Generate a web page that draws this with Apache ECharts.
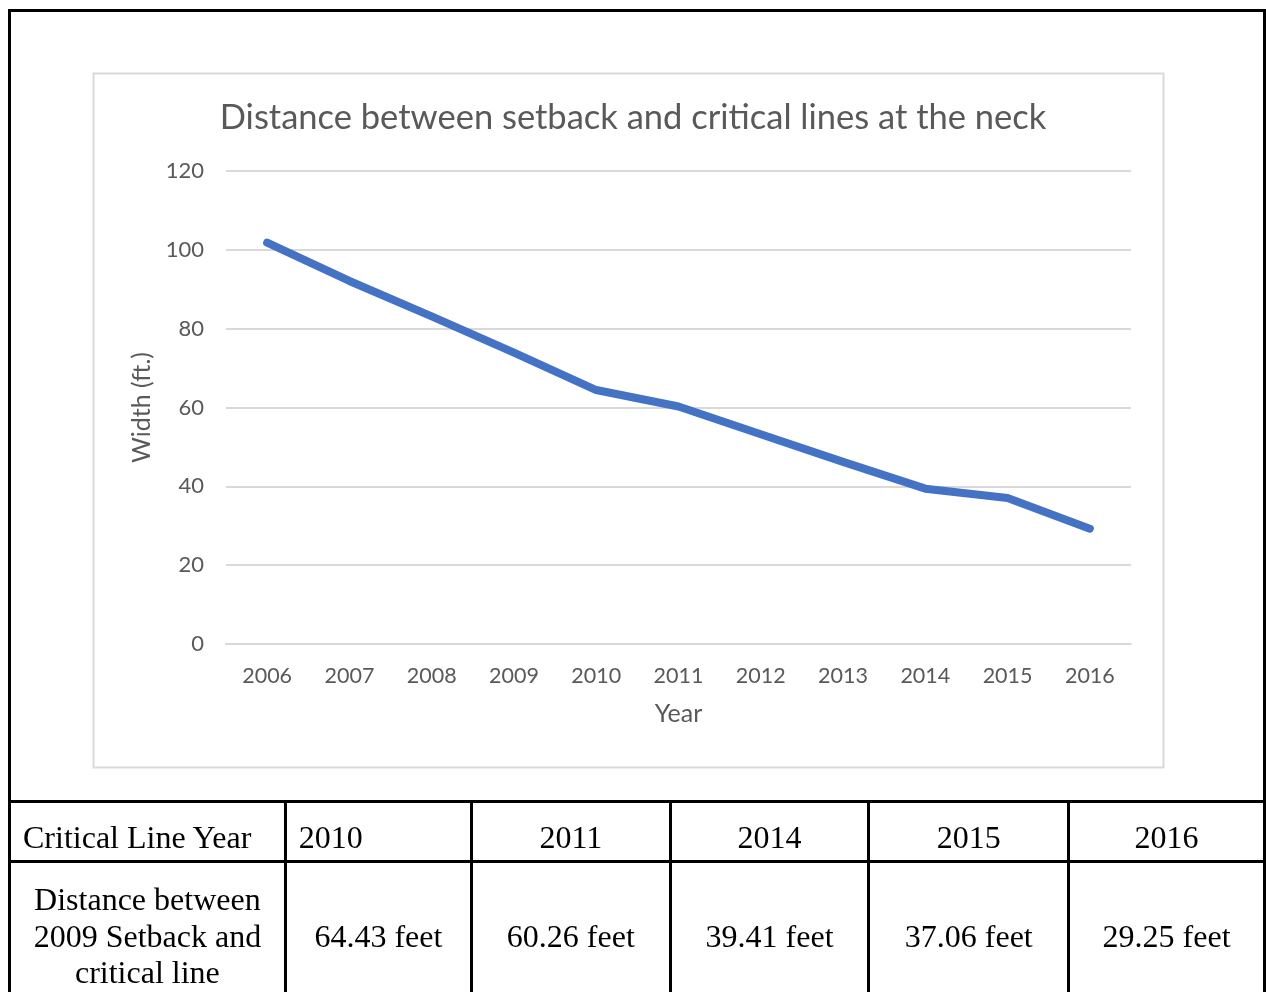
<!DOCTYPE html>
<html>
<head>
<meta charset="utf-8">
<script src="https://cdn.jsdelivr.net/npm/echarts@6/dist/echarts.min.js"></script>
<style>
html,body{margin:0;padding:0;background:#fff;width:1266px;height:992px;overflow:hidden;}
#frame{position:absolute;left:8px;top:9px;width:1252px;height:1100px;border:3px solid #000;box-sizing:content-box;z-index:2;pointer-events:none;}
#chart{position:absolute;left:0;top:0;width:1266px;height:800px;z-index:1;}
#tbl{position:absolute;left:8px;top:800px;border-collapse:collapse;font-family:"Liberation Serif","Times New Roman",serif;font-size:32px;color:#000;z-index:3;}
#tbl td{border:3px solid #000;padding:0;text-align:center;vertical-align:middle;}
</style>
</head>
<body>
<div id="frame"></div>
<div id="chart"></div>
<table id="tbl"></table>
<script>
// Chart data
var years = ['2006','2007','2008','2009','2010','2011','2012','2013','2014','2015','2016'];
var widths = [101.8, 92.1, 83.1, 73.9, 64.43, 60.26, 53.2, 46.2, 39.41, 37.06, 29.25];
var yTicks = {min: 0, max: 120, interval: 20};

// Table data
var tableHeader = 'Critical Line Year';
var tableRowLabel = ['Distance between', '2009 Setback and', 'critical line'];
var tableYears = ['2010', '2011', '2014', '2015', '2016'];
var tableDistances = ['64.43 feet', '60.26 feet', '39.41 feet', '37.06 feet', '29.25 feet'];

var chartFont = 'Lato, "Open Sans", sans-serif';
var chart = echarts.init(document.getElementById('chart'), null, {renderer: 'canvas'});
chart.setOption({
  animation: false,
  backgroundColor: 'transparent',
  title: {
    text: 'Distance between setback and critical lines at the neck',
    left: 'center', top: 95,
    textStyle: {fontFamily: chartFont, fontSize: 34.5, fontWeight: 'normal', color: '#595959'}
  },
  graphic: [{
    type: 'rect', left: 91, top: 71,
    shape: {width: 1070, height: 694},
    style: {fill: 'none', stroke: '#d9d9d9', lineWidth: 2},
    z: -1
  }],
  grid: {left: 226, top: 171, width: 905, height: 473},
  xAxis: {
    type: 'category', data: years, boundaryGap: true,
    name: 'Year', nameLocation: 'middle', nameGap: 57,
    nameTextStyle: {fontFamily: chartFont, fontSize: 25, color: '#595959'},
    axisLine: {show: true, lineStyle: {color: '#d9d9d9', width: 2}},
    axisTick: {show: false},
    axisLabel: {fontFamily: chartFont, fontSize: 21.5, color: '#595959', margin: 21}
  },
  yAxis: {
    type: 'value', min: yTicks.min, max: yTicks.max, interval: yTicks.interval,
    name: 'Width (ft.)', nameLocation: 'middle', nameGap: 69, nameRotate: 90,
    nameTextStyle: {fontFamily: chartFont, fontSize: 25, color: '#595959'},
    axisLine: {show: false}, axisTick: {show: false},
    axisLabel: {fontFamily: chartFont, fontSize: 22, color: '#595959', margin: 22},
    splitLine: {lineStyle: {color: '#d9d9d9', width: 2}}
  },
  series: [{
    type: 'line', data: widths, showSymbol: false, symbol: 'none',
    lineStyle: {color: '#4472C4', width: 8, cap: 'round', join: 'round'}
  }]
});

// Build table from arrays
var tbl = document.getElementById('tbl');
var colW = [277, 186, 199, 199, 200, 196];
var r1 = document.createElement('tr');
r1.style.height = '60px';
var c = document.createElement('td');
c.textContent = tableHeader; c.style.textAlign = 'left'; c.style.paddingLeft = '12px'; c.style.width = (colW[0]-12) + 'px';
c.style.paddingTop = '11px';
r1.appendChild(c);
tableYears.forEach(function (y, i) {
  var td = document.createElement('td');
  td.textContent = y; td.style.width = colW[i+1] + 'px'; td.style.paddingTop = '11px';
  if (i === 0) { td.style.textAlign = 'left'; td.style.paddingLeft = '12px'; td.style.width = (colW[1]-12) + 'px'; }
  r1.appendChild(td);
});
tbl.appendChild(r1);
var r2 = document.createElement('tr');
r2.style.height = '190px';
var c2 = document.createElement('td');
c2.innerHTML = tableRowLabel.join('<br>'); c2.style.lineHeight = '36.5px'; c2.style.verticalAlign = 'top'; c2.style.paddingTop = '18px';
r2.appendChild(c2);
tableDistances.forEach(function (d) {
  var td = document.createElement('td');
  td.textContent = d; td.style.verticalAlign = 'top'; td.style.paddingTop = '55px';
  r2.appendChild(td);
});
tbl.appendChild(r2);
</script>
</body>
</html>
